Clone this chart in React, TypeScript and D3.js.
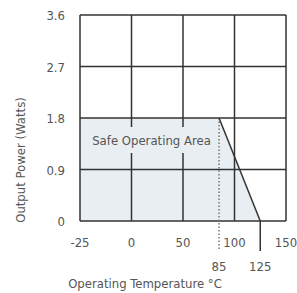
import React, { useEffect, useRef } from 'react';
import * as d3 from 'd3';

// gridline temperatures (evenly spaced on the chart, not linear)
const tempTicks = [-25, 0, 50, 100, 150];
const powerTicks = [0, 0.9, 1.8, 2.7, 3.6];
// derating curve: full power up to 85 °C, zero at 125 °C
const deratingCurve: [number, number][] = [
    [-25, 1.8],
    [85, 1.8],
    [125, 0],
];
const markerTemps = [85, 125];

const FONT = '"Liberation Sans Narrow", "DejaVu Sans Condensed", sans-serif';

const App: React.FC = () => {
    const svgRef = useRef<SVGSVGElement | null>(null);

    useEffect(() => {
        const width = 297;
        const height = 293;
        const margin = { top: 15, right: 11, bottom: 72, left: 80 };
        const w = width - margin.left - margin.right;
        const h = height - margin.top - margin.bottom;

        const svg = d3.select(svgRef.current);
        svg.selectAll('*').remove();

        const x = d3
            .scaleLinear()
            .domain(tempTicks)
            .range(tempTicks.map((_, i) => (i * w) / (tempTicks.length - 1)));
        const y = d3.scaleLinear().domain([0, 3.6]).range([h, 0]);

        const g = svg.append('g').attr('transform', `translate(${margin.left},${margin.top})`);

        // safe operating area fill
        const area = d3
            .area<[number, number]>()
            .x((d) => x(d[0]))
            .y0(y(0))
            .y1((d) => y(d[1]));
        g.append('path').datum(deratingCurve).attr('d', area).attr('fill', '#e9eef2');

        // grid
        g.selectAll('.vgrid')
            .data(tempTicks)
            .enter()
            .append('line')
            .attr('x1', (d) => x(d))
            .attr('x2', (d) => x(d))
            .attr('y1', 0)
            .attr('y2', h)
            .attr('stroke', '#333')
            .attr('stroke-width', 1.5);
        g.selectAll('.hgrid')
            .data(powerTicks)
            .enter()
            .append('line')
            .attr('x1', 0)
            .attr('x2', w)
            .attr('y1', (d) => y(d))
            .attr('y2', (d) => y(d))
            .attr('stroke', '#333')
            .attr('stroke-width', 1.5);

        // dotted marker at 85
        g.append('line')
            .attr('x1', x(85))
            .attr('x2', x(85))
            .attr('y1', y(1.8))
            .attr('y2', h + 30)
            .attr('stroke', '#777')
            .attr('stroke-width', 1.5)
            .attr('stroke-dasharray', '1.5,2');

        // label box
        const labelX = (x(-25) + x(85)) / 2 + 2;
        g.append('rect')
            .attr('x', x(-25) + 12)
            .attr('y', y(1.8) + 9)
            .attr('width', x(85) - x(-25) - 15)
            .attr('height', 26)
            .attr('fill', '#e9eef2');
        g.append('text')
            .attr('x', labelX)
            .attr('y', y(1.8) + 27)
            .attr('text-anchor', 'middle')
            .attr('font-family', FONT)
            .attr('font-size', 13)
            .attr('fill', '#555')
            .text('Safe Operating Area');

        // derating line
        g.append('line')
            .attr('x1', x(85))
            .attr('y1', y(1.8))
            .attr('x2', x(125))
            .attr('y2', y(0))
            .attr('stroke', '#333')
            .attr('stroke-width', 1.5);
        g.append('line')
            .attr('x1', x(125))
            .attr('x2', x(125))
            .attr('y1', y(0))
            .attr('y2', h + 30)
            .attr('stroke', '#333')
            .attr('stroke-width', 1.5);

        // tick labels
        g.selectAll('.xlab')
            .data(tempTicks)
            .enter()
            .append('text')
            .attr('x', (d) => x(d))
            .attr('y', h + 26)
            .attr('text-anchor', 'middle')
            .attr('font-family', FONT)
            .attr('font-size', 13)
            .attr('fill', '#555')
            .text((d) => String(d));
        g.selectAll('.mlab')
            .data(markerTemps)
            .enter()
            .append('text')
            .attr('x', (d) => x(d))
            .attr('y', h + 50)
            .attr('text-anchor', 'middle')
            .attr('font-family', FONT)
            .attr('font-size', 13)
            .attr('fill', '#555')
            .text((d) => String(d));
        g.selectAll('.ylab')
            .data(powerTicks)
            .enter()
            .append('text')
            .attr('x', -15)
            .attr('y', (d) => y(d) + 5)
            .attr('text-anchor', 'end')
            .attr('font-family', FONT)
            .attr('font-size', 13)
            .attr('fill', '#555')
            .text((d) => (d === 0 ? '0' : d.toFixed(1)));

        // axis titles
        g.append('text')
            .attr('x', w / 2 - 38)
            .attr('y', h + 67)
            .attr('text-anchor', 'middle')
            .attr('font-family', FONT)
            .attr('font-size', 13)
            .attr('fill', '#555')
            .text('Operating Temperature °C');
        g.append('text')
            .attr('transform', `translate(${-55},${h / 2 + 42}) rotate(-90)`)
            .attr('text-anchor', 'middle')
            .attr('font-family', FONT)
            .attr('font-size', 13)
            .attr('fill', '#555')
            .text('Output Power (Watts)');
    }, []);

    return (
        <svg
            ref={svgRef}
            width={297}
            height={293}
            style={{ position: 'absolute', left: 0, top: 0, background: '#fff' }}
        />
    );
};

export default App;
